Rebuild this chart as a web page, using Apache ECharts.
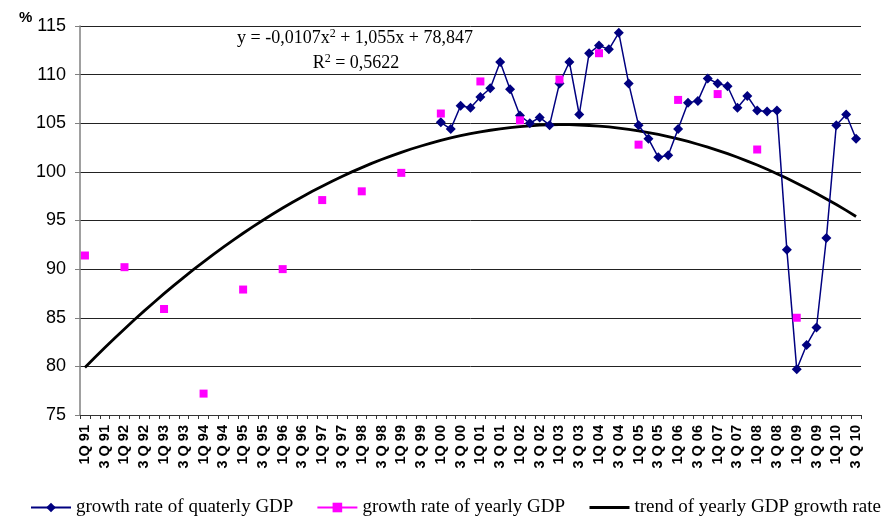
<!DOCTYPE html>
<html>
<head>
<meta charset="utf-8">
<script src="https://cdn.jsdelivr.net/npm/echarts@6/dist/echarts.min.js"></script>
<style>
html,body{margin:0;padding:0;background:#fff;}
#chart{width:884px;height:521px;}
</style>
</head>
<body>
<div id="chart"></div>
<script>
// Years and quarters of the category axis (1Q 91 ... 3Q 10)
const years = [91,92,93,94,95,96,97,98,99,'00','01','02','03','04','05','06','07','08','09','10'];
const lastQuarterOfLastYear = 3;

// Quarterly GDP growth rate, 1Q 2000 ... 3Q 2010
const quarterlyStartIndex = 36;
const quarterly = [
  105.1, 104.4, 106.8, 106.6, 107.7, 108.6, 111.3, 108.5,
  105.8, 105.0, 105.6, 104.8, 109.1, 111.3, 105.9, 112.2,
  113.0, 112.6, 114.3, 109.1, 104.8, 103.4, 101.5, 101.7,
  104.4, 107.1, 107.3, 109.6, 109.1, 108.8, 106.6, 107.8,
  106.3, 106.2, 106.3, 92.0, 79.7, 82.2, 84.0, 93.2,
  104.8, 105.9, 103.4
];

// Yearly GDP growth rate, 1991 ... 2009 (plotted at 1Q of each year)
const yearly = [91.4, 90.2, 85.9, 77.2, 87.9, 90.0, 97.1, 98.0, 99.9, 106.0,
                109.3, 105.3, 109.5, 112.2, 102.8, 107.4, 108.0, 102.3, 85.0];

// Trend of yearly GDP growth rate (one value per category)
const trend = [
  79.89, 80.91, 81.92, 82.90, 83.85, 84.79, 85.71, 86.60, 87.48, 88.33,
  89.16, 89.97, 90.75, 91.52, 92.26, 92.99, 93.69, 94.37, 95.03, 95.67,
  96.28, 96.88, 97.45, 98.00, 98.53, 99.04, 99.53, 100.00, 100.44, 100.87,
  101.27, 101.65, 102.01, 102.35, 102.66, 102.96, 103.23, 103.49, 103.72, 103.93,
  104.12, 104.28, 104.43, 104.55, 104.65, 104.74, 104.80, 104.83, 104.85, 104.85,
  104.82, 104.77, 104.71, 104.62, 104.50, 104.37, 104.22, 104.04, 103.85, 103.63,
  103.39, 103.13, 102.84, 102.54, 102.21, 101.87, 101.50, 101.11, 100.70, 100.27,
  99.81, 99.34, 98.84, 98.32, 97.78, 97.22, 96.64, 96.04, 95.41
];

const yTicks = {min: 75, max: 115, interval: 5};
const seriesNames = ['growth rate of quaterly GDP', 'growth rate of yearly GDP', 'trend of yearly GDP growth rate'];

// Build categories
const categories = [];
years.forEach((y, yi) => {
  const nq = (yi === years.length - 1) ? lastQuarterOfLastYear : 4;
  for (let q = 1; q <= nq; q++) {
    categories.push(q === 1 ? ('1Q ' + y) : (q + ' Q ' + y));
  }
});

const quarterlyData = categories.map((c, i) => {
  const k = i - quarterlyStartIndex;
  return (k >= 0 && k < quarterly.length) ? quarterly[k] : null;
});
const yearlyData = yearly.map((v, k) => [k * 4, v]);

const chart = echarts.init(document.getElementById('chart'));
chart.setOption({
  animation: false,
  backgroundColor: '#fff',
  grid: {left: 80, right: 23, top: 26, bottom: 106, containLabel: false},
  xAxis: {
    type: 'category',
    data: categories,
    boundaryGap: true,
    axisLine: {show: true, lineStyle: {color: '#333', width: 1}},
    axisTick: {show: true, interval: 0, alignWithLabel: false, length: 4, lineStyle: {color: '#333'}},
    axisLabel: {
      interval: 1, rotate: 90, margin: 10,
      fontFamily: 'Liberation Sans', fontWeight: 'bold', fontSize: 14.5, color: '#000'
    },
    splitLine: {show: false}
  },
  yAxis: {
    type: 'value',
    min: yTicks.min, max: yTicks.max, interval: yTicks.interval,
    axisLine: {show: true, lineStyle: {color: '#808080', width: 1.5}},
    axisTick: {show: true, length: 5, lineStyle: {color: '#808080'}},
    axisLabel: {fontFamily: 'Liberation Sans', fontSize: 18, color: '#000', margin: 14},
    splitLine: {show: true, lineStyle: {color: '#222', width: 1}}
  },
  legend: {
    top: 498, left: 30, width: 854, padding: 0,
    itemWidth: 40, itemHeight: 12, itemGap: 23,
    textStyle: {fontFamily: 'Liberation Serif', fontSize: 19, color: '#000'},
    data: [
      {name: seriesNames[0], lineStyle: {color: '#000080', width: 2}},
      {name: seriesNames[1], lineStyle: {color: '#ff00ff', width: 2}},
      {name: seriesNames[2], lineStyle: {color: '#000', width: 3}, itemStyle: {color: 'rgba(0,0,0,0)', borderWidth: 0}}
    ]
  },
  graphic: [
    {type: 'text', left: 19, top: 10, style: {text: '%', fontFamily: 'Liberation Sans', fontWeight: 'bold', fontSize: 15, fill: '#000'}},
    {type: 'text', x: 355, y: 38, style: {
      text: '{n|y = -0,0107x}{s|2}{n| + 1,055x + 78,847}', align: 'center', verticalAlign: 'middle',
      rich: {n: {fontFamily: 'Liberation Serif', fontSize: 18, fill: '#000'}, s: {fontFamily: 'Liberation Serif', fontSize: 12, fill: '#000', padding: [0,0,9,0]}}
    }},
    {type: 'text', x: 356, y: 63, style: {
      text: '{n|R}{s|2}{n| = 0,5622}', align: 'center', verticalAlign: 'middle',
      rich: {n: {fontFamily: 'Liberation Serif', fontSize: 18, fill: '#000'}, s: {fontFamily: 'Liberation Serif', fontSize: 12, fill: '#000', padding: [0,0,9,0]}}
    }}
  ],
  series: [
    {
      name: seriesNames[2], type: 'line', data: trend,
      showSymbol: false, symbol: 'none',
      lineStyle: {color: '#000', width: 2.8}, itemStyle: {color: '#000'}, z: 2
    },
    {
      name: seriesNames[0], type: 'line', data: quarterlyData,
      symbol: 'diamond', symbolSize: 10, showAllSymbol: true, connectNulls: false,
      lineStyle: {color: '#000080', width: 1.5}, itemStyle: {color: '#000080'}, z: 3
    },
    {
      name: seriesNames[1], type: 'line', data: yearlyData,
      symbol: 'rect', symbolSize: 8, showAllSymbol: true,
      lineStyle: {width: 0, color: '#ff00ff'}, itemStyle: {color: '#ff00ff'}, z: 4
    }
  ]
});
</script>
</body>
</html>
